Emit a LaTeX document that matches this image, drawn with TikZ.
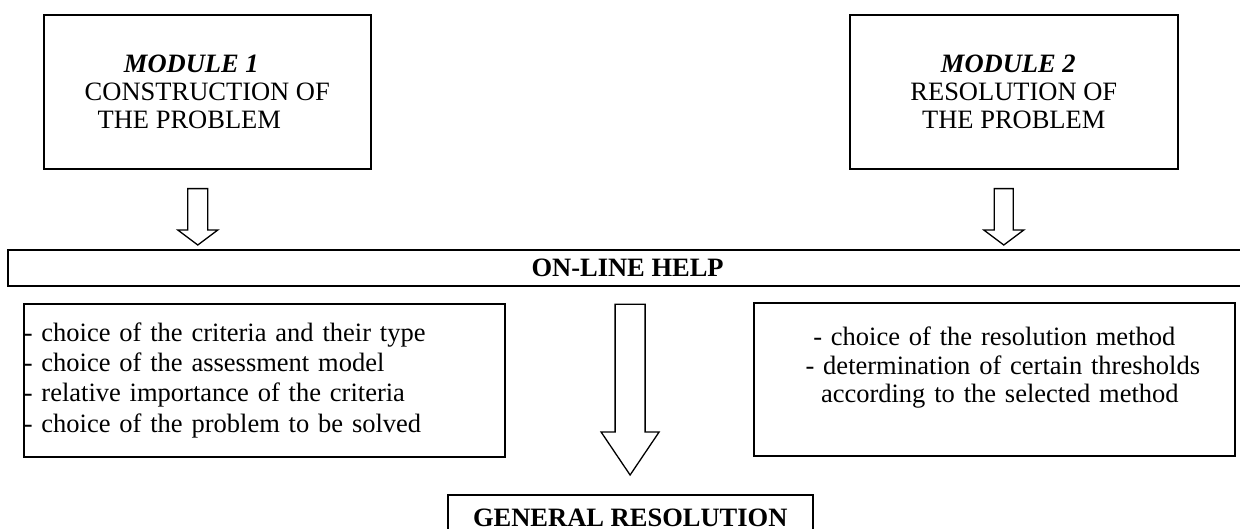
\documentclass[tikz,border=0pt]{standalone}
\usepackage{fontspec}
\setmainfont{Liberation Serif}
\usetikzlibrary{calc}

\tikzset{
  modbox/.style={draw, line width=1.6pt, anchor=north west, minimum width=327, minimum height=154,
    align=center, font=\fontsize{26.5}{28}\selectfont},
  helpbar/.style={draw, line width=2.2pt, anchor=north west, minimum width=1239, minimum height=36,
    font=\fontsize{26.5}{28}\selectfont\bfseries},
  listbox/.style={draw, line width=1.6pt, anchor=north west, minimum height=153, inner xsep=0pt,
    text width=481pt},
  genbox/.style={draw, line width=1.5pt, anchor=north west, minimum width=365, minimum height=46,
    font=\fontsize{26.5}{28}\selectfont\bfseries},
  blockarrow/.style={draw, line width=1.3pt, line join=miter}
}

\begin{document}
\begin{tikzpicture}[x=1pt, y=-1pt]
  \useasboundingbox (0,0) rectangle (1240,528);
  \clip (0,0) rectangle (1240,528);

  % modules
  \node[modbox] (m1) at (43,14) {\textbf{\textit{MODULE 1}}\hspace*{32pt}\\CONSTRUCTION OF\hspace*{12pt}\\THE PROBLEM\hspace*{36pt}};
  \node[modbox, minimum width=328] (m2) at (849,14) {\textbf{\textit{MODULE 2}}\hspace*{11pt}\\RESOLUTION OF\\THE PROBLEM};

  % help bar
  \node[helpbar] (help) at (7,249) {ON-LINE HELP};

  % what the help covers
  \node[listbox, align=left, font=\fontsize{26.5}{30.3}\selectfont] (crit) at (23,303)
    {- choice of the criteria and their type\\- choice of the assessment model\\- relative importance of the criteria\\- choice of the problem to be solved};
  \node[listbox, align=center, font=\fontsize{26.5}{28.5}\selectfont] (meth) at (753,302)
    {- choice of the resolution method\hspace*{15pt}\\\hspace*{17pt}- determination of certain thresholds\\\hspace*{11pt}according to the selected method\\\mbox{}};

  \node[genbox] (gen) at (447,494) {GENERAL RESOLUTION};

  % hollow arrows
  \foreach \src/\dst/\dx/\ga/\gb/\sw/\hw/\hl in
    {m1/help/-9.5/19/4/10/20/15, m2/help/-10/19/4/9.5/20/15, help/gen/2.5/17/19/15/29/43}
    \draw[blockarrow] let \p1=(\src.south), \p2=(\dst.north) in
      (\x1+\dx-\sw, \y1-\ga) -- (\x1+\dx+\sw, \y1-\ga) -- (\x1+\dx+\sw, \y2+\gb+\hl)
      -- (\x1+\dx+\hw, \y2+\gb+\hl) -- (\x1+\dx, \y2+\gb) -- (\x1+\dx-\hw, \y2+\gb+\hl)
      -- (\x1+\dx-\sw, \y2+\gb+\hl) -- cycle;
\end{tikzpicture}
\end{document}
